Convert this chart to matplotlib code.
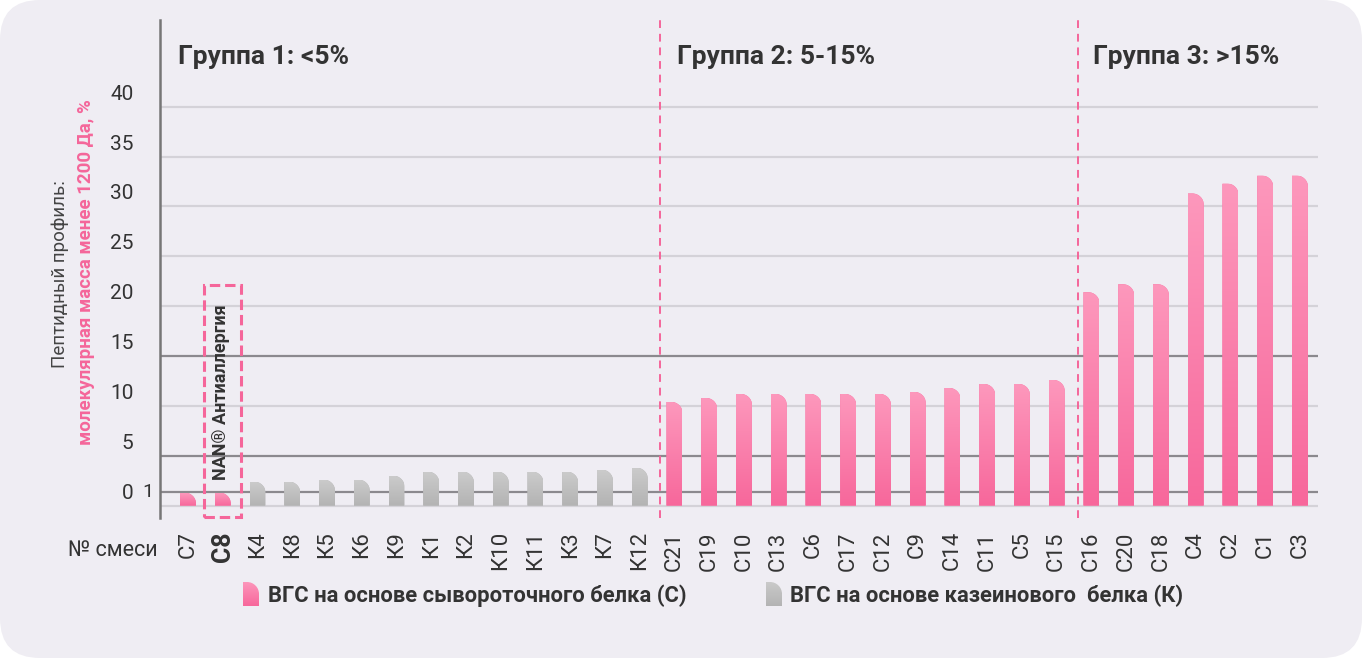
import numpy as np
import matplotlib
matplotlib.use("Agg")
import matplotlib.pyplot as plt
from matplotlib.path import Path
from matplotlib.patches import PathPatch, Rectangle, FancyBboxPatch
from matplotlib.colors import LinearSegmentedColormap
import matplotlib.transforms as mtransforms

plt.rcParams['font.family'] = ['Roboto', 'DejaVu Sans']

# ---------------- data ----------------
categories = ['С7', 'С8', 'К4', 'К8', 'К5', 'К6', 'К9', 'К1', 'К2', 'К10', 'К11', 'К3', 'К7', 'К12',
              'С21', 'С19', 'С10', 'С13', 'С6', 'С17', 'С12', 'С9', 'С14', 'С11', 'С5', 'С15',
              'С16', 'С20', 'С18', 'С4', 'С2', 'С1', 'С3']
values = [1.3, 1.3, 2.4, 2.4, 2.6, 2.6, 3.0, 3.4, 3.4, 3.4, 3.4, 3.4, 3.6, 3.8,
          10.4, 10.8, 11.2, 11.2, 11.2, 11.2, 11.2, 11.4, 11.8, 12.2, 12.2, 12.6,
          21.4, 22.2, 22.2, 31.3, 32.3, 33.1, 33.1]
protein_type = ['whey' if c.startswith('С') else 'casein' for c in categories]
highlight = 'С8'
highlight_label = 'NAN® Антиаллергия'

y_ticks = [0, 5, 10, 15, 20, 25, 30, 35, 40]
light_grid = [0, 10, 20, 25, 30, 35, 40]
dark_grid = [1.4, 5, 15]
group_bounds = [13.58, 25.6]
group_titles = ['Группа 1: <5%', 'Группа 2: 5-15%', 'Группа 3: >15%']
legend_labels = ['ВГС на основе сывороточного белка (С)', 'ВГС на основе казеинового  белка (К)']

# ---------------- style ----------------
PINK = '#f5669a'
PINK_TOP, PINK_BOT = '#fd98bc', '#f7679b'
GREY_TOP, GREY_BOT = '#cbcbcb', '#b3b3b3'
TXT = '#333333'
W, H = 1364, 660

cmap_pink = LinearSegmentedColormap.from_list('p', [PINK_TOP, PINK_BOT])
cmap_grey = LinearSegmentedColormap.from_list('g', [GREY_TOP, GREY_BOT])

fig = plt.figure(figsize=(W / 100, H / 100), dpi=100)
fig.patch.set_facecolor('white')
card = FancyBboxPatch((0.0, 0.02), 13.62, 6.58, boxstyle="round,pad=0,rounding_size=0.4",
                      transform=fig.dpi_scale_trans, facecolor='#efedf3', edgecolor='none', zorder=-10)
fig.patches.append(card)


def px_rect(x0, y0, x1, y1):
    return [x0 / W, 1 - y1 / H, (x1 - x0) / W, (y1 - y0) / H]


def rounded_top_path(x0, w, h, rx, ry):
    rx = min(rx, w)
    ry = min(ry, h)
    k = 0.5523
    verts = [(x0, 0), (x0, h), (x0 + w - rx, h),
             (x0 + w - rx + k * rx, h), (x0 + w, h - ry + k * ry), (x0 + w, h - ry),
             (x0 + w, 0), (x0, 0)]
    codes = [Path.MOVETO, Path.LINETO, Path.LINETO,
             Path.CURVE4, Path.CURVE4, Path.CURVE4,
             Path.LINETO, Path.CLOSEPOLY]
    return Path(verts, codes)


def gradient_fill(ax, x0, w, h, rx, ry, cmap, z=3):
    path = rounded_top_path(x0, w, h, rx, ry)
    clip = PathPatch(path, transform=ax.transData, facecolor='none', edgecolor='none')
    ax.add_patch(clip)
    grad = np.linspace(0, 1, 256).reshape(-1, 1)
    im = ax.imshow(grad, cmap=cmap, extent=[x0, x0 + w, 0, h], aspect='auto',
                   origin='upper', zorder=z, interpolation='bicubic')
    im.set_clip_path(clip)
    return clip


# ---------------- main axes ----------------
ax = fig.add_axes(px_rect(160, 20, 1318, 518))
ax.set_facecolor('none')
xpos = np.arange(len(categories))
XMIN, XMAX = -0.806, 32.52
YMIN, YMAX = -1.25, 48.7

for g in light_grid:
    ax.axhline(g, color='#d4d2d8', lw=1.6, zorder=1)
for g in dark_grid:
    ax.axhline(g, color='#8b898e', lw=1.6, zorder=1)

bar_w = 0.46
rx, ry = 0.33, 1.1
bars = ax.bar(xpos, values, width=bar_w, zorder=2,
              color=[PINK_BOT if t == 'whey' else GREY_BOT for t in protein_type])
for b, t in zip(bars, protein_type):
    clip = gradient_fill(ax, b.get_x(), b.get_width(), b.get_height(), rx, ry,
                         cmap_pink if t == 'whey' else cmap_grey)
    b.set_clip_path(clip)

for xb in group_bounds:
    ax.axvline(xb, color=PINK, lw=1.4, ls=(0, (4, 3)), zorder=1.5)

ax.set_xlim(XMIN, XMAX)
ax.set_ylim(YMIN, YMAX)

for s in ['top', 'right', 'bottom']:
    ax.spines[s].set_visible(False)
ax.spines['left'].set_color('#767676')
ax.spines['left'].set_linewidth(1.8)

ax.set_xticks(xpos)
ax.set_xticklabels(categories, rotation=90, fontsize=16, color=TXT)
ax.tick_params(axis='x', length=0, pad=9.5)
for lbl in ax.get_xticklabels():
    if lbl.get_text() == highlight:
        lbl.set_fontweight('bold')
        lbl.set_fontsize(18)

ax.set_yticks(y_ticks, [str(v) for v in y_ticks], va='bottom')
ax.tick_params(axis='y', length=0, pad=19, labelsize=15, labelcolor=TXT)
for lbl in ax.get_yticklabels():
    lbl.set_transform(lbl.get_transform() + mtransforms.ScaledTranslation(0, 3 / 100, fig.dpi_scale_trans))
ax.text(-0.0104, dark_grid[0], '1', transform=mtransforms.blended_transform_factory(ax.transAxes, ax.transData),
        ha='center', va='center', fontsize=14, color=TXT)

# highlight box around C8
hi = categories.index(highlight)
ax.add_patch(Rectangle((hi - 0.54, -1.15), 1.065, 23.25, fill=False, edgecolor=PINK,
                       lw=2.2, ls=(0, (3.4, 1.6)), zorder=4, clip_on=False))
ax.text(hi - 0.06, 11.4, highlight_label, rotation=90, ha='center', va='center',
        fontsize=13, fontweight='bold', color=TXT, zorder=5)

# group titles
for xpix, t in zip([178, 677, 1093], group_titles):
    fig.text(xpix / W, 1 - 57 / H, t, ha='left', va='center', fontsize=19,
             fontweight='bold', color=TXT)

# y-axis labels
fig.text(60 / W, 1 - 274 / H, 'Пептидный профиль:', rotation=90, ha='center', va='center',
         fontsize=13.5, color='#444444')
fig.text(86 / W, 1 - 272 / H, 'молекулярная масса менее 1200 Да, %', rotation=90,
         ha='center', va='center', fontsize=13.5, fontweight='bold', color=PINK)
fig.text(158 / W, 1 - 550 / H, '№ смеси', ha='right', va='center', fontsize=15.5, color=TXT)

# legend
for (ix, tx), lab, cm in zip([(243, 268), (766, 790)], legend_labels, [cmap_pink, cmap_grey]):
    lax = fig.add_axes(px_rect(ix, 582, ix + 16, 606))
    lax.set_axis_off()
    gradient_fill(lax, 0, 1, 1, 0.75, 0.5, cm)
    lax.set_xlim(0, 1)
    lax.set_ylim(0, 1)
    fig.text(tx / W, 1 - 596 / H, lab, ha='left', va='center', fontsize=15.8,
             fontweight='bold', color=TXT)

fig.savefig('out.png', dpi=100, facecolor=fig.get_facecolor())
